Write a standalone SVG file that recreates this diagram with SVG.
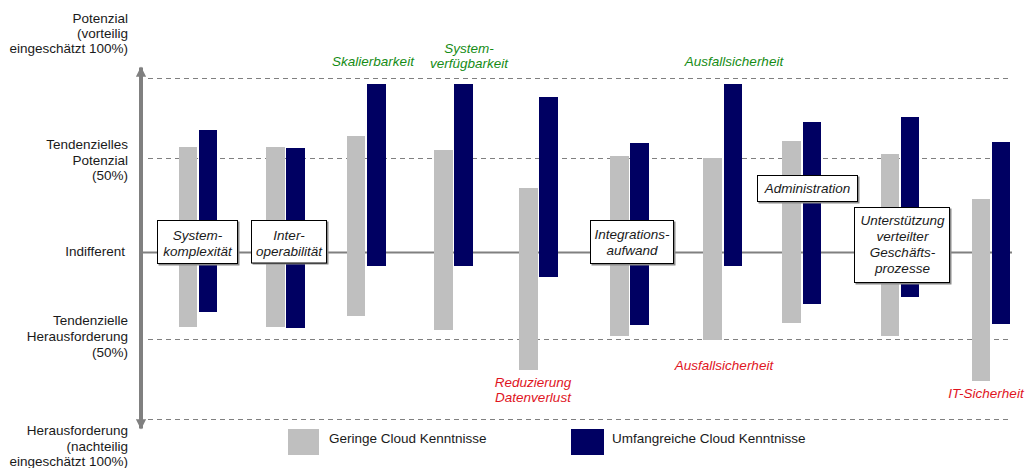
<svg xmlns="http://www.w3.org/2000/svg" width="1032" height="468" viewBox="0 0 1032 468">
<style>
text{font-family:"Liberation Sans",Arial,sans-serif;font-size:13.5px;fill:#1a1a1a}
.ax{text-anchor:end}
.bx{text-anchor:middle;font-style:italic}
.g{fill:#168c16;font-style:italic;text-anchor:middle}
.r{fill:#e0141e;font-style:italic;text-anchor:middle}
.lo{fill:#bfbfbf}
.hi{fill:#000062}
.dash{stroke:#808080;stroke-width:1.2;stroke-dasharray:5 4;fill:none}
.box{fill:#fff;stroke:#000;stroke-width:1}
.sh{fill:#8a8a8a}
</style>
<defs>
<marker id="ah" viewBox="0 0 10 10" refX="9" refY="5" markerWidth="2.6" markerHeight="2.6" orient="auto" markerUnits="strokeWidth">
<path d="M0,0 L10,5 L0,10 z" fill="#808080"/>
</marker>
</defs>
<rect width="1032" height="468" fill="#fff"/>
<g id="grid">
<line class="dash" x1="148" y1="78.5" x2="1012" y2="78.5"/>
<line class="dash" x1="148" y1="158.5" x2="1012" y2="158.5"/>
<line class="dash" x1="148" y1="339.5" x2="1012" y2="339.5"/>
<line class="dash" x1="148" y1="419.5" x2="1012" y2="419.5"/>
<line x1="143" y1="252.5" x2="1012" y2="252.5" stroke="#808080" stroke-width="2"/>
</g>
<g id="connectors">
<line x1="141" y1="252" x2="141" y2="67.5" stroke="#808080" stroke-width="4" marker-end="url(#ah)"/>
<line x1="141" y1="252" x2="141" y2="428.5" stroke="#808080" stroke-width="4" marker-end="url(#ah)"/>
</g>
<g id="axis-labels">
<text class="ax" x="128" y="23">Potenzial</text>
<text class="ax" x="128" y="38">(vorteilig</text>
<text class="ax" x="128" y="53">eingeschätzt 100%)</text>
<text class="ax" x="128" y="149">Tendenzielles</text>
<text class="ax" x="128" y="165">Potenzial</text>
<text class="ax" x="128" y="180">(50%)</text>
<text class="ax" x="125" y="256">Indifferent</text>
<text class="ax" x="128" y="325">Tendenzielle</text>
<text class="ax" x="128" y="341">Herausforderung</text>
<text class="ax" x="128" y="357">(50%)</text>
<text class="ax" x="128" y="435">Herausforderung</text>
<text class="ax" x="128" y="451">(nachteilig</text>
<text class="ax" x="128" y="466">eingeschätzt 100%)</text>
</g>
<g id="bars">
<rect class="lo" x="179" y="147" width="18" height="180"/>
<rect class="hi" x="199" y="130" width="18" height="182"/>
<rect class="lo" x="266" y="147" width="19" height="180"/>
<rect class="hi" x="286" y="148" width="19" height="180"/>
<rect class="lo" x="347" y="136" width="18" height="180"/>
<rect class="hi" x="367" y="84" width="19" height="182"/>
<rect class="lo" x="434" y="150" width="19" height="180"/>
<rect class="hi" x="454" y="84" width="19" height="182"/>
<rect class="lo" x="519" y="188" width="19" height="182"/>
<rect class="hi" x="539" y="97" width="19" height="180"/>
<rect class="lo" x="610" y="156" width="19" height="180"/>
<rect class="hi" x="630" y="143" width="19" height="182"/>
<rect class="lo" x="703" y="158" width="19" height="182"/>
<rect class="hi" x="724" y="84" width="18" height="182"/>
<rect class="lo" x="782" y="141" width="19" height="182"/>
<rect class="hi" x="803" y="122" width="18" height="182"/>
<rect class="lo" x="881" y="154" width="18" height="182"/>
<rect class="hi" x="901" y="117" width="18" height="180"/>
<rect class="lo" x="972" y="199" width="18" height="182"/>
<rect class="hi" x="992" y="142" width="18" height="182"/>
</g>
<g id="node-systemkomplexitaet">
<rect class="sh" x="158.5" y="221.5" width="81" height="44"/>
<rect class="box" x="157.5" y="220.5" width="80" height="43"/>
<text class="bx" x="197.5" y="240">System-</text>
<text class="bx" x="197.5" y="256">komplexität</text>
</g>
<g id="node-interoperabilitaet">
<rect class="sh" x="252.5" y="221.5" width="76" height="43"/>
<rect class="box" x="251.5" y="220.5" width="75" height="42.5"/>
<text class="bx" x="289" y="240">Inter-</text>
<text class="bx" x="289" y="256">operabilität</text>
</g>
<g id="node-integrationsaufwand">
<rect class="sh" x="591.5" y="221.5" width="84" height="44"/>
<rect class="box" x="590.5" y="220.5" width="83" height="43"/>
<text class="bx" x="632" y="239">Integrations-</text>
<text class="bx" x="632" y="255">aufwand</text>
</g>
<g id="node-administration">
<rect class="sh" x="758.5" y="176.5" width="101" height="27"/>
<rect class="box" x="757.5" y="175.5" width="100" height="26"/>
<text class="bx" x="807.5" y="193">Administration</text>
</g>
<g id="node-unterstuetzung">
<rect class="sh" x="855.5" y="208.5" width="96" height="76"/>
<rect class="box" x="854.5" y="207.5" width="95" height="75"/>
<text class="bx" x="902.5" y="225">Unterstützung</text>
<text class="bx" x="902.5" y="241">verteilter</text>
<text class="bx" x="902.5" y="257">Geschäfts-</text>
<text class="bx" x="902.5" y="273">prozesse</text>
</g>
<g id="labels-positive">
<text class="g" x="373" y="66">Skalierbarkeit</text>
<text class="g" x="469" y="53">System-</text>
<text class="g" x="469" y="68">verfügbarkeit</text>
<text class="g" x="734" y="66">Ausfallsicherheit</text>
</g>
<g id="labels-negative">
<text class="r" x="533" y="387">Reduzierung</text>
<text class="r" x="533" y="402">Datenverlust</text>
<text class="r" x="724" y="370">Ausfallsicherheit</text>
<text class="r" x="986" y="398">IT-Sicherheit</text>
</g>
<g id="legend">
<rect class="lo" x="288" y="429" width="31" height="26"/>
<text x="329" y="443">Geringe Cloud Kenntnisse</text>
<rect class="hi" x="571" y="429" width="33" height="26"/>
<text x="612" y="443">Umfangreiche Cloud Kenntnisse</text>
</g>
</svg>
